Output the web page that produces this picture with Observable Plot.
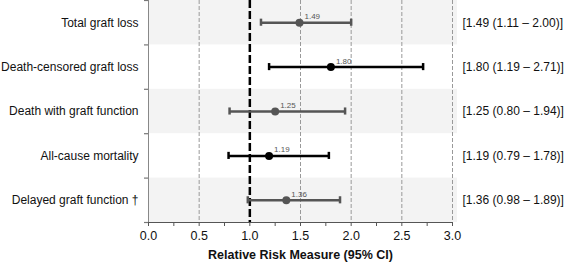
<!DOCTYPE html>
<html><head><meta charset="utf-8">
<script src="https://cdn.jsdelivr.net/npm/d3@7"></script>
<script src="https://cdn.jsdelivr.net/npm/@observablehq/plot@0.6"></script>
<style>body{margin:0;background:#fff;font-family:"Liberation Sans",Arial,sans-serif;}</style>
</head><body><div id="chart"></div>
<script>
const outcomes = ["Total graft loss","Death-censored graft loss","Death with graft function","All-cause mortality","Delayed graft function †"];
const estimates = [1.49, 1.80, 1.25, 1.19, 1.36];
const lower = [1.11, 1.19, 0.80, 0.79, 0.98];
const upper = [2.00, 2.71, 1.94, 1.78, 1.89];
const gridLines = [0.5, 1.5, 2.0, 2.5, 3.0];
const refLine = 1.0;
const xTicks = [0,0.25,0.5,0.75,1,1.25,1.5,1.75,2,2.25,2.5,2.75,3];
const rowBounds = [0,1,2,3,4,5];

const rows = outcomes.map((o,i)=>({o, i, y:i+0.5, est:estimates[i], lo:lower[i], hi:upper[i],
  color: i%2===0 ? "#555" : "#000",
  label: `[${estimates[i].toFixed(2)} (${lower[i].toFixed(2)} – ${upper[i].toFixed(2)})]`}));
const bands = rows.filter(r=>r.i%2===0);

const chart = Plot.plot({
  width:565, height:264,
  marginLeft:148, marginRight:113, marginTop:0, marginBottom:42,
  style:{fontFamily:"Liberation Sans, Arial, sans-serif", fontSize:"12px", color:"#111", background:"#fff"},
  x:{domain:[0,3]},
  y:{domain:[5,0], axis:null},
  marks:[
    Plot.rect(bands,{x1:0, x2:3.05, y1:d=>d.i, y2:d=>d.i+1, fill:"#f3f3f3"}),
    Plot.ruleX(gridLines,{y1:0,y2:5,stroke:"#999",strokeDasharray:"4,2",strokeWidth:1}),
    Plot.ruleX([refLine],{y1:0,y2:5,stroke:"#000",strokeDasharray:"8,3",strokeWidth:2.5}),
    Plot.ruleX([0],{y1:0,y2:5,stroke:"#888",strokeWidth:1}),
    Plot.ruleY([5],{x1:0,x2:3,stroke:"#555",strokeWidth:1}),
    Plot.axisY({ticks:rowBounds, tickFormat:()=>"", tickSize:4, stroke:"#777", strokeWidth:1.2, label:null}),
    Plot.axisX({ticks:xTicks, tickSize:4, stroke:"#555", tickFormat:d=> (Math.round(d*100)%50===0 ? d.toFixed(1) : ""), fontSize:12.5, label:null, tickPadding:5}),
    Plot.text(["Relative Risk Measure (95% CI)"],{frameAnchor:"bottom", dy:36, fontWeight:"bold", fontSize:12.5, fill:"#111"}),
    Plot.ruleY(rows,{y:"y", x1:"lo", x2:"hi", stroke:"color", strokeWidth:2.5}),
    Plot.ruleX(rows,{x:"lo", y1:d=>d.y-0.08, y2:d=>d.y+0.08, stroke:"color", strokeWidth:2.5}),
    Plot.ruleX(rows,{x:"hi", y1:d=>d.y-0.08, y2:d=>d.y+0.08, stroke:"color", strokeWidth:2.5}),
    Plot.dot(rows,{x:"est", y:"y", r:4, fill:"color", stroke:null}),
    Plot.text(rows,{x:"est", y:"y", text:d=>d.est.toFixed(2), dx:5, dy:-6, textAnchor:"start", fontSize:8, fill:"#555"}),
    Plot.text(rows,{x:0, y:"y", text:"o", dx:-10, textAnchor:"end", fontSize:12, fill:"#111"}),
    Plot.text(rows,{x:3, y:"y", text:"label", dx:10, textAnchor:"start", fontSize:12, fill:"#111"})
  ]
});
document.getElementById("chart").append(chart);
</script>
</body></html>
